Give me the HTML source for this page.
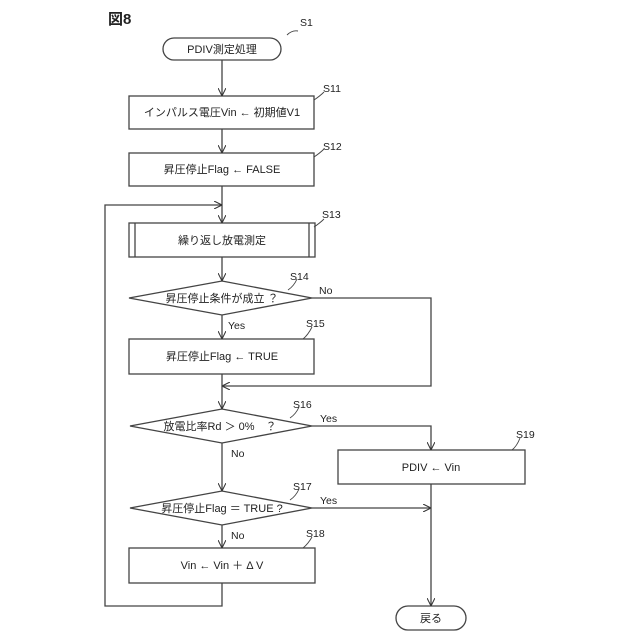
<!DOCTYPE html>
<html><head><meta charset="utf-8"><style>
html,body{margin:0;padding:0;background:#fff}
svg{display:block}
text{font-family:"Liberation Sans","Noto Sans CJK JP",sans-serif;fill:#222}
</style></head><body>
<svg width="640" height="640" viewBox="0 0 640 640" xmlns="http://www.w3.org/2000/svg">
<defs>
<marker id="a" viewBox="0 0 10 10" refX="10" refY="5" markerWidth="8" markerHeight="8" orient="auto" markerUnits="userSpaceOnUse"><path d="M0,0 L10,5 L0,10" fill="none" stroke="#333" stroke-width="1.3"/></marker>
</defs>
<g stroke="#444" stroke-width="1.3" fill="none">
<rect x="163" y="38" width="118" height="22" rx="11"/>
<rect x="129" y="96" width="185" height="33"/>
<rect x="129" y="153" width="185" height="33"/>
<rect x="129" y="223" width="186" height="34"/>
<line x1="135" y1="223" x2="135" y2="257"/><line x1="309" y1="223" x2="309" y2="257"/>
<polygon points="129,298 222,281 312,298 222,315"/>
<rect x="129" y="339" width="185" height="35"/>
<polygon points="130,426 222,409 312,426 222,443"/>
<rect x="338" y="450" width="187" height="34"/>
<polygon points="130,508 222,491 312,508 222,525"/>
<rect x="129" y="548" width="186" height="35"/>
<rect x="396" y="606" width="70" height="24" rx="12"/>
<line x1="222" y1="60" x2="222" y2="96" marker-end="url(#a)"/>
<line x1="222" y1="129" x2="222" y2="153" marker-end="url(#a)"/>
<line x1="222" y1="186" x2="222" y2="223" marker-end="url(#a)"/>
<polyline points="222,583 222,606 105,606 105,205 222,205" marker-end="url(#a)"/>
<line x1="222" y1="257" x2="222" y2="281" marker-end="url(#a)"/>
<line x1="222" y1="315" x2="222" y2="339" marker-end="url(#a)"/>
<polyline points="312,298 431,298 431,386 222,386" marker-end="url(#a)"/>
<line x1="222" y1="374" x2="222" y2="409" marker-end="url(#a)"/>
<polyline points="312,426 431,426 431,450" marker-end="url(#a)"/>
<line x1="222" y1="443" x2="222" y2="491" marker-end="url(#a)"/>
<line x1="312" y1="508" x2="431" y2="508" marker-end="url(#a)"/>
<line x1="222" y1="525" x2="222" y2="548" marker-end="url(#a)"/>
<line x1="431" y1="484" x2="431" y2="606" marker-end="url(#a)"/>
<g stroke-width="0.9">
<path d="M287,35 Q292,30 298,31"/>
<path d="M314,100 Q320,96 324,92"/>
<path d="M314,157 Q320,153 324,149"/>
<path d="M314,227 Q320,223 324,219"/>
<path d="M288,290 Q294,286 297,279"/>
<path d="M303,339 Q308,335 312,327"/>
<path d="M290,418 Q296,414 299,407"/>
<path d="M290,500 Q296,496 299,489"/>
<path d="M303,548 Q308,544 312,537"/>
<path d="M512,450 Q517,446 520,438"/>
</g>
</g>
<g font-size="10.5">
<text x="300" y="26">S1</text>
<text x="323" y="92">S11</text>
<text x="323" y="150">S12</text>
<text x="322" y="218">S13</text>
<text x="290" y="280">S14</text>
<text x="306" y="327">S15</text>
<text x="293" y="408">S16</text>
<text x="293" y="490">S17</text>
<text x="306" y="537">S18</text>
<text x="516" y="438">S19</text>
<text x="319" y="294">No</text>
<text x="228" y="329">Yes</text>
<text x="320" y="422">Yes</text>
<text x="231" y="457">No</text>
<text x="320" y="504">Yes</text>
<text x="231" y="539">No</text>
</g>
<text x="108" y="24" font-size="15" font-weight="bold">図8</text>
<g font-size="11" text-anchor="middle">
<text x="222" y="53">PDIV測定処理</text>
<text x="222" y="116">インパルス電圧Vin ← 初期値V1</text>
<text x="222" y="173">昇圧停止Flag ← FALSE</text>
<text x="222" y="244">繰り返し放電測定</text>
<text x="222" y="302">昇圧停止条件が成立 ？</text>
<text x="222" y="360">昇圧停止Flag ← TRUE</text>
<text x="220" y="430">放電比率Rd ＞ 0%　？</text>
<text x="431" y="471">PDIV ← Vin</text>
<text x="222" y="512">昇圧停止Flag ＝ TRUE ?</text>
<text x="222" y="569">Vin ← Vin ＋ Δ V</text>
<text x="431" y="622">戻る</text>
</g>
</svg>
</body></html>
